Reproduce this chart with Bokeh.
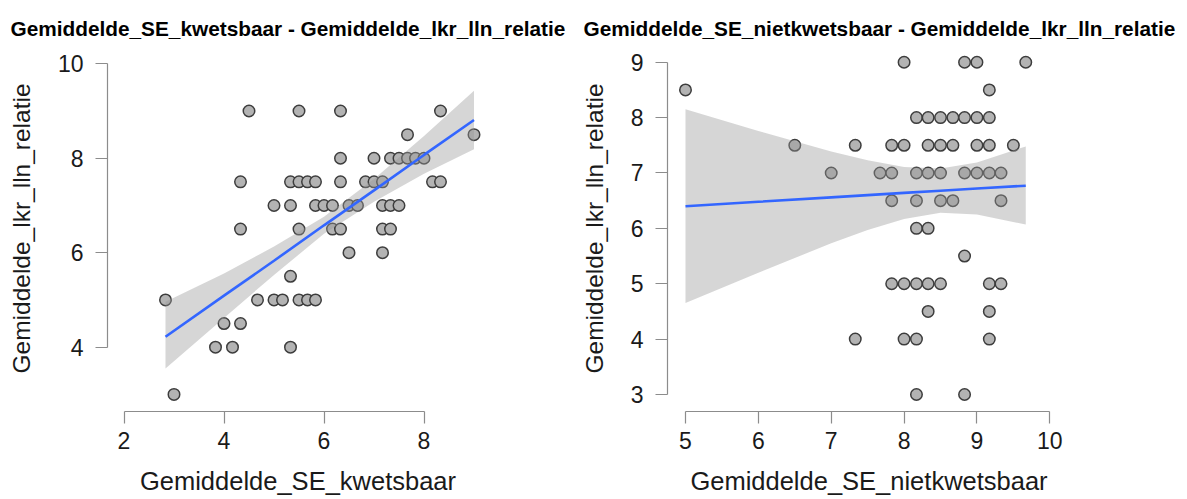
import numpy as np
from bokeh.plotting import figure
from bokeh.layouts import row
from bokeh.models import Range1d, FixedTicker, Title, ColumnDataSource
from bokeh.embed import file_html
from bokeh.resources import INLINE

# ---------------- data ----------------
left_x = [4.5, 5.5, 6.33, 8.33,
          7.67, 9.0,
          6.33, 7.0, 7.33, 7.5, 7.67, 7.83, 8.0,
          4.33, 5.33, 5.5, 5.67, 5.83, 6.33, 6.83, 7.0, 7.17, 8.17, 8.33,
          5.0, 5.33, 5.83, 6.0, 6.17, 6.5, 6.67, 7.17, 7.33, 7.5,
          4.33, 5.5, 6.17, 6.33, 7.17, 7.33,
          6.5, 7.17,
          5.33,
          2.83, 4.67, 5.0, 5.17, 5.5, 5.67, 5.83,
          4.0, 4.33,
          3.83, 4.17, 5.33,
          3.0]
left_y = [9, 9, 9, 9,
          8.5, 8.5,
          8, 8, 8, 8, 8, 8, 8,
          7.5, 7.5, 7.5, 7.5, 7.5, 7.5, 7.5, 7.5, 7.5, 7.5, 7.5,
          7, 7, 7, 7, 7, 7, 7, 7, 7, 7,
          6.5, 6.5, 6.5, 6.5, 6.5, 6.5,
          6, 6,
          5.5,
          5, 5, 5, 5, 5, 5, 5,
          4.5, 4.5,
          4, 4, 4,
          3]

right_x = [8.0, 8.83, 9.0, 9.67,
           5.0, 9.17,
           8.17, 8.33, 8.5, 8.67, 8.83, 9.0, 9.17,
           6.5, 7.33, 7.83, 8.0, 8.33, 8.5, 8.67, 9.0, 9.17, 9.5,
           7.0, 7.67, 7.83, 8.17, 8.33, 8.5, 8.83, 9.0, 9.17, 9.33,
           7.83, 8.17, 8.5, 8.67, 9.33,
           8.17, 8.33,
           8.83,
           7.83, 8.0, 8.17, 8.33, 8.5, 9.17, 9.33,
           8.33, 9.17,
           7.33, 8.0, 8.17, 9.17,
           8.17, 8.83]
right_y = [9, 9, 9, 9,
           8.5, 8.5,
           8, 8, 8, 8, 8, 8, 8,
           7.5, 7.5, 7.5, 7.5, 7.5, 7.5, 7.5, 7.5, 7.5, 7.5,
           7, 7, 7, 7, 7, 7, 7, 7, 7, 7,
           6.5, 6.5, 6.5, 6.5, 6.5,
           6, 6,
           5.5,
           5, 5, 5, 5, 5, 5, 5,
           4.5, 4.5,
           4, 4, 4, 4,
           3, 3]

# linear smoother (fit + 95% band)
left_fit_x = [2.83, 4.0, 5.0, 6.0, 7.0, 8.0, 9.0]
left_fit_y = [4.22, 5.09, 5.83, 6.58, 7.32, 8.07, 8.81]
left_fit_lo = [3.55, 4.62, 5.53, 6.40, 7.08, 7.67, 8.19]
left_fit_hi = [4.96, 5.56, 6.13, 6.76, 7.56, 8.47, 9.43]

right_fit_x = [5.0, 6.0, 7.0, 7.5, 8.0, 8.5, 9.0, 9.67]
right_fit_y = [6.40, 6.48, 6.56, 6.60, 6.64, 6.68, 6.72, 6.77]
right_fit_lo = [4.65, 5.20, 5.73, 5.97, 6.17, 6.28, 6.25, 6.07]
right_fit_hi = [8.15, 7.76, 7.39, 7.23, 7.11, 7.08, 7.19, 7.48]

left_title = "Gemiddelde_SE_kwetsbaar - Gemiddelde_lkr_lln_relatie"
right_title = "Gemiddelde_SE_nietkwetsbaar - Gemiddelde_lkr_lln_relatie"
left_xlabel = "Gemiddelde_SE_kwetsbaar"
right_xlabel = "Gemiddelde_SE_nietkwetsbaar"
ylabel = "Gemiddelde_lkr_lln_relatie"
left_xticks = [2, 4, 6, 8]
left_yticks = [4, 6, 8, 10]
right_xticks = [5, 6, 7, 8, 9, 10]
right_yticks = [3, 4, 5, 6, 7, 8, 9]

FONT = "Liberation Sans"
AXIS_COL = "#8c8c8c"


def make_panel(xs, ys, fx, fy, flo, fhi, title, xlabel, xticks, yticks, xr, yr, width,
               border_left, border_right, title_offset):
    p = figure(width=width, height=499, output_backend="svg", toolbar_location=None,
               x_range=Range1d(*xr), y_range=Range1d(*yr),
               min_border_left=border_left, min_border_right=border_right,
               min_border_top=45, min_border_bottom=88, title=None)
    p.outline_line_color = None
    p.xgrid.visible = False
    p.ygrid.visible = False
    p.background_fill_color = "white"
    p.border_fill_color = "white"

    t = Title(text=title, align="left", offset=title_offset, standoff=11,
              text_font=FONT, text_font_size="20.8px", text_font_style="bold",
              text_color="black")
    p.add_layout(t, "above")

    p.scatter(xs, ys, size=11.5, fill_color="#b3b3b3", line_color="#3d3d3d",
              line_width=1.5)
    src = ColumnDataSource(dict(x=fx, fit=fy, lo=flo, hi=fhi))
    p.varea(x="x", y1="lo", y2="hi", source=src, fill_color="#999999", fill_alpha=0.4)
    p.line(x="x", y="fit", source=src, line_color="#3366FF", line_width=2.6)

    for ax, ticks in ((p.xaxis[0], xticks), (p.yaxis[0], yticks)):
        ax.ticker = FixedTicker(ticks=ticks)
        ax.bounds = (ticks[0], ticks[-1])
        ax.minor_tick_line_color = None
        ax.major_tick_in = 0
        ax.major_tick_out = 12
        ax.axis_line_color = AXIS_COL
        ax.major_tick_line_color = AXIS_COL
        ax.axis_line_width = 1.2
        ax.major_tick_line_width = 1.2
        ax.major_label_text_font = FONT
        ax.major_label_text_font_size = "23px"
        ax.major_label_text_color = "#1a1a1a"
        ax.axis_label_text_font = FONT
        ax.axis_label_text_font_style = "normal"
        ax.axis_label_text_color = "#1a1a1a"
    p.xaxis[0].axis_label = xlabel
    p.yaxis[0].axis_label = ylabel
    p.xaxis[0].axis_label_text_font_size = "25.5px"
    p.yaxis[0].axis_label_text_font_size = "24.5px"
    p.xaxis[0].major_label_standoff = 8
    p.xaxis[0].axis_label_standoff = 15
    p.yaxis[0].major_label_standoff = 12
    p.yaxis[0].axis_label_standoff = 20
    return p


# left frame: 107..488 px (x: 50 px/unit), 45..411 px (y: 47.23 px/unit)
left = make_panel(left_x, left_y, left_fit_x, left_fit_y, left_fit_lo, left_fit_hi,
                  left_title, left_xlabel, left_xticks, left_yticks,
                  (1.67, 9.29), (2.638, 10.387), 575, 107, 87, -97)
# right frame: 667..1070 px (x: 72.86 px/unit), 45..411 px (y: 55.38 px/unit)
right = make_panel(right_x, right_y, right_fit_x, right_fit_y, right_fit_lo, right_fit_hi,
                   right_title, right_xlabel, right_xticks, right_yticks,
                   (4.753, 10.284), (2.693, 9.302), 612, 92, 117, -84)

layout = row(left, right)
open("out.html", "w").write(file_html(layout, INLINE))
